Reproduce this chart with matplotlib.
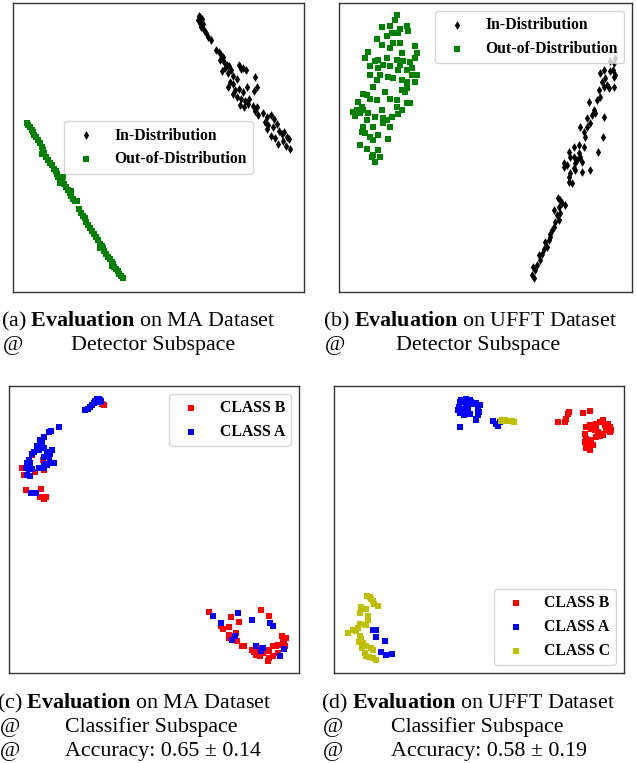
import numpy as np
import matplotlib
matplotlib.use("Agg")
import matplotlib.pyplot as plt

# ---- embeddings (2-D projection coordinates) ----
# (a) MA dataset, detector subspace
ma_det_id = [(597,48),(601,52),(606,58),(594,62),(599,70),(604,76),(609,72),(603,82),(612,90),(618,100),(625,112),(632,122),
             (648,150),(656,158),(662,165),(668,172),(660,182),(672,188),(680,196),(676,206),(688,200),(694,212),(685,220),(665,214),(700,228),
             (718,196),(722,208),(730,204),(738,212),(690,246),(700,252),(712,238),(684,262),(704,270),(716,266),(728,276),(742,262),(765,232),(770,262),(762,272),
             (700,282),(712,290),(724,296),(736,302),(748,298),(720,316),(732,322),(745,312),(758,318),(770,322),(765,334),(775,344),
             (790,338),(800,350),(812,346),(822,356),(795,366),(805,374),(818,382),(830,372),(838,392),(845,402),(852,396),(860,410),(866,418),
             (848,424),(835,432),(858,438),(870,446),(826,414),(812,408),(800,388)]
ma_det_ood = [(82,370),(86,376),(90,382),(96,390),(100,396),(104,404),(110,410),(116,420),(120,428),(126,440),(130,450),(134,458),(128,462),
              (140,470),(146,480),(152,488),(158,496),(162,506),(168,514),(172,522),(176,530),(182,538),(190,532),(186,546),(194,552),(200,560),
              (204,570),(210,578),(214,588),(220,596),(226,602),(232,604),(238,628),(244,638),(250,648),(256,654),(260,664),(266,674),(272,684),
              (278,692),(284,700),(290,710),(296,720),(300,730),(306,736),(310,744),(314,752),(320,762),(326,770),(332,776),(336,784),(340,792),
              (344,800),(348,806),(354,812),(358,820),(364,826),(370,834),(180,548),(214,574),(300,742),(338,796)]

# (b) UFFT dataset, detector subspace
ufft_det_id = [(640,833),(635,825),(645,810),(638,800),(650,795),(660,780),(655,765),(665,760),(670,745),(680,740),(675,725),(685,720),
               (690,700),(695,690),(700,680),(705,665),(715,660),(710,645),(720,640),(700,630),(715,620),(725,610),(735,615),(712,595),
               (745,545),(755,548),(745,530),(750,520),(730,490),(740,495),(760,505),(765,490),(770,480),(780,470),(775,460),(745,455),
               (760,440),(775,435),(790,440),(750,470),(765,510),(810,510),(785,515),(795,410),(790,395),(780,380),(800,380),(810,370),
               (800,355),(815,345),(825,340),(850,350),(820,330),(805,305),(830,300),(840,290),(835,270),(850,260),(860,255),(865,265),
               (880,260),(845,245),(855,235),(840,220),(850,210),(870,215),(880,230),(885,225),(878,210),(880,190),(870,185),(885,175),
               (848,410),(833,455),(760,470),(785,485),(730,500),(720,600),(690,710)]
ufft_det_ood = [(230,47),(225,60),(185,82),(210,80),(215,100),(235,100),(240,88),(260,80),(265,95),(200,108),(172,118),(185,135),
                (220,130),(240,130),(285,138),(290,160),(245,160),(145,158),(135,175),(165,185),(175,180),(200,175),(230,180),(250,185),
                (270,188),(285,175),(190,195),(210,200),(175,205),(235,210),(260,210),(150,225),(180,225),(205,230),(220,235),(245,240),
                (275,225),(290,225),(260,245),(285,245),(160,262),(245,270),(255,275),(130,282),(150,298),(115,305),(210,298),(230,300),
                (260,310),(270,310),(125,322),(100,335),(105,348),(130,330),(185,330),(245,330),(235,342),(215,350),(190,355),(165,350),
                (140,360),(130,380),(160,380),(190,370),(210,380),(135,400),(150,410),(175,405),(205,418),(120,435),(140,448),(160,465),
                (175,450),(180,470),(165,485),(155,470),(110,330),(120,340),(145,340),(200,360),(230,320),(170,300),(195,275),(260,265),
                (140,285),(170,240),(240,195),(210,145),(150,200),(275,205),(125,395),(160,420)]

# (c) MA dataset, classifier subspace
ma_cls_b = [(310,133),(305,132),(128,300),(65,325),(72,345),(103,335),(130,330),(95,285),(78,390),(122,387),(120,410),(130,418),(138,410),
            (627,757),(638,768),(692,772),(783,752),(808,770),(718,787),(663,800),(687,802),(668,808),(688,825),(688,835),(707,820),
            (710,845),(700,832),(725,860),(732,858),(755,870),(762,878),(768,885),(780,888),(790,880),(800,870),(808,875),(818,860),
            (828,858),(835,855),(845,828),(857,835),(852,850),(855,860),(835,880),(820,890),(806,895),(805,903),(780,875),(770,865),
            (763,872),(848,845)]
ma_cls_a = [(255,150),(262,145),(270,140),(275,135),(280,128),(285,122),(290,117),(295,115),(300,118),(303,122),(298,125),
            (175,200),(152,212),(147,215),(130,230),(120,240),(125,242),(110,258),(125,258),(115,270),(130,262),(140,275),(150,280),
            (145,290),(100,275),(95,280),(130,290),(85,300),(80,310),(90,310),(78,325),(85,328),(95,328),(115,325),(130,318),(140,315),
            (150,310),(160,310),(130,325),(135,312),(80,345),(88,348),(92,398),(108,400),(155,268),
            (640,768),(715,760),(755,782),(662,790),(810,790),(820,800),(705,830),(695,840),(767,860),(783,875),(790,865),(840,890),(852,868)]

# (d) UFFT dataset, classifier subspace
ufft_cls_b = [(715,186),(735,185),(738,175),(745,162),(748,155),(790,157),(812,153),(850,180),(840,185),(830,190),(810,195),(800,200),
              (815,205),(825,210),(835,215),(845,220),(850,225),(860,210),(870,200),(872,215),(875,210),(795,220),(800,235),(795,245),
              (805,255),(800,262),(810,268),(820,255),(815,240),(830,230),(840,228),(830,200),(855,195),(865,190)]
ufft_cls_a = [(420,125),(425,120),(440,115),(450,118),(455,125),(460,130),(470,128),(480,135),(475,145),(478,155),(475,165),(468,175),
              (470,180),(450,160),(445,150),(435,145),(418,140),(415,150),(420,158),(432,165),(440,135),(448,130),(420,200),
              (520,182),(530,190),(535,198),(540,185),(548,180),
              (160,810),(170,812),(168,833),(195,845),(185,878),(200,885),(218,883)]
ufft_cls_c = [(548,178),(555,180),(562,182),(570,183),(578,183),(582,185),(545,183),
              (143,708),(150,712),(155,718),(160,725),(163,732),(175,740),(123,743),(138,747),(120,760),(145,782),(122,792),(140,795),
              (115,805),(100,812),(108,815),(85,820),(120,828),(125,838),(118,848),(130,850),(140,858),(160,870),(155,865),(135,880),
              (140,888),(148,892),(160,895),(170,902),(128,865),(145,770)]

W, H = 637, 763
SERIF = "Liberation Serif"
plt.rcParams["font.family"] = SERIF
plt.rcParams["mathtext.fontset"] = "custom"
plt.rcParams["mathtext.rm"] = SERIF
plt.rcParams["mathtext.bf"] = SERIF + ":bold"

fig = plt.figure(figsize=(W / 100, H / 100), dpi=100)


def add_axes(x0, y0, x1, y1):
    # box given in pixels from the top-left corner
    ax = fig.add_axes([x0 / W, 1 - y1 / H, (x1 - x0) / W, (y1 - y0) / H])
    ax.set_xticks([])
    ax.set_yticks([])
    for s in ax.spines.values():
        s.set_color("0.2")
        s.set_linewidth(1.0)
    return ax


def scat(ax, pts, **kw):
    p = np.array(pts, dtype=float)
    ax.scatter(p[:, 0], p[:, 1], linewidths=0, **kw)


leg_font = {"family": SERIF, "weight": "bold", "size": 11.3}
SQ = 17   # square marker area
DM = 20   # diamond marker area

# (a)
ax = add_axes(13, 3, 304, 292)
scat(ax, ma_det_id, marker="d", s=DM, c="black", label="In-Distribution")
scat(ax, ma_det_ood, marker="s", s=SQ, c="green", label="Out-of-Distribution")
ax.set_xlim(40, 912)
ax.set_ylim(875, 10)
ax.legend(loc="center", prop=leg_font)

# (b)
ax = add_axes(339, 3, 632, 292)
scat(ax, ufft_det_id, marker="d", s=DM, c="black", label="In-Distribution")
scat(ax, ufft_det_ood, marker="s", s=SQ, c="green", label="Out-of-Distribution")
ax.set_xlim(57, 935)
ax.set_ylim(875, 10)
ax.legend(loc="upper right", prop=leg_font)

# (c)
ax = add_axes(9, 386, 299, 673)
scat(ax, ma_cls_b, marker="s", s=SQ, c="red", label="CLASS B")
scat(ax, ma_cls_a, marker="s", s=SQ, c="blue", label="CLASS A")
ax.set_xlim(26, 897)
ax.set_ylim(940, 77)
ax.legend(loc="upper right", prop=leg_font)

# (d)
ax = add_axes(334, 386, 624, 673)
scat(ax, ufft_cls_b, marker="s", s=SQ, c="red", label="CLASS B")
scat(ax, ufft_cls_a, marker="s", s=SQ, c="blue", label="CLASS A")
scat(ax, ufft_cls_c, marker="s", s=SQ, c="y", label="CLASS C")
ax.set_xlim(43, 913)
ax.set_ylim(940, 77)
ax.legend(loc="lower right", prop=leg_font)


# sub-captions
def put(x, y, s):
    fig.text(x / W, 1 - y / H, s, fontsize=15.8, family=SERIF, va="baseline", ha="left")


put(1, 326, r"(a) $\mathbf{Evaluation}$ on MA Dataset")
put(3, 350, "@")
put(71, 350, "Detector Subspace")

put(323, 326, r"(b) $\mathbf{Evaluation}$ on UFFT Dataset")
put(325, 350, "@")
put(396, 350, "Detector Subspace")

put(-3, 708, r"(c) $\mathbf{Evaluation}$ on MA Dataset")
put(0, 732, "@")
put(65, 732, "Classifier Subspace")
put(0, 756, "@")
put(65, 756, "Accuracy: 0.65 ± 0.14")

put(321, 708, r"(d) $\mathbf{Evaluation}$ on UFFT Dataset")
put(323, 732, "@")
put(391, 732, "Classifier Subspace")
put(323, 756, "@")
put(391, 756, "Accuracy: 0.58 ± 0.19")

fig.savefig("out.png", dpi=100)
